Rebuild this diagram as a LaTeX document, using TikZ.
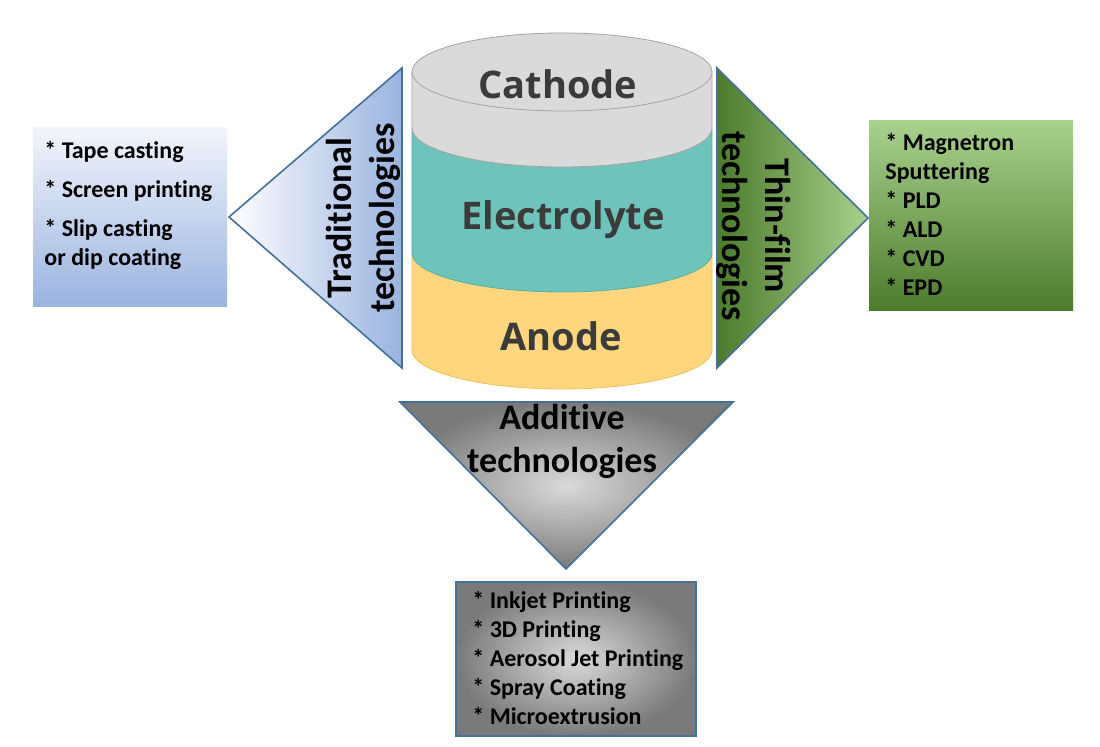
\documentclass[tikz,border=0pt]{standalone}
\usepackage{fontspec}
\setmainfont{Carlito}[Ligatures=NoCommon]
\newfontfamily\layerfont{Open Sans}
\usepackage{tikz}

\definecolor{edgeblue}{HTML}{41719C}
\definecolor{tradblue}{HTML}{9AB3DF}
\definecolor{tradlight}{HTML}{F2F5FB}
\definecolor{filmdark}{HTML}{4C7B2C}
\definecolor{filmlight}{HTML}{A9D18E}
\definecolor{greylight}{HTML}{DADADA}
\definecolor{greydark}{HTML}{7A7A7A}
\definecolor{cathode}{HTML}{DADADA}
\definecolor{cathodeedge}{HTML}{A3A3A3}
\definecolor{electrolyte}{HTML}{6EC4BA}
\definecolor{electrolyteedge}{HTML}{5AB0A6}
\definecolor{anode}{HTML}{FDD67E}
\definecolor{anodeedge}{HTML}{EDC25C}
\definecolor{layertext}{HTML}{3B3B3B}

\begin{document}
\begin{tikzpicture}[x=0.5pt,y=-0.5pt,
    listtext/.style={font=\bfseries\fontsize{12pt}{14.5pt}\selectfont, align=left, inner sep=0pt, anchor=north west},
    techlabel/.style={font=\bfseries\fontsize{18pt}{21.5pt}\selectfont, align=center, inner sep=0pt},
    layerlabel/.style={font=\layerfont\bfseries\fontsize{19pt}{23pt}\selectfont, text=layertext, inner sep=0pt},
    tri/.style={draw=edgeblue, line width=0.8pt, line join=miter}]

    \useasboundingbox (0,0) rectangle (1100,747);
    \fill[white] (0,0) rectangle (1100,747);

    % traditional technologies (left)
    \shade[top color=tradlight, bottom color=tradblue] (33,128) rectangle (227,307);
    \shadedraw[tri, left color=white, right color=tradblue] (229,217) -- (402,68) -- (402,368) -- cycle;
    \node[listtext] (tradlist) at (44,141) {* Tape casting\\[5pt]* Screen printing\\[5pt]* Slip casting\\or dip coating};
    \node[techlabel, rotate=90] (trad) at (363,218) {Traditional\\technologies};

    % cell: anode, electrolyte, cathode
    \filldraw[fill=anode, draw=anodeedge] (412,253) -- (412,350)
        arc[start angle=180, end angle=360, x radius=75pt, y radius=19.5pt] -- (712,253) -- cycle;
    \filldraw[fill=electrolyte, draw=electrolyteedge] (412,128) -- (412,253)
        arc[start angle=180, end angle=360, x radius=75pt, y radius=19.5pt] -- (712,128) -- cycle;
    \filldraw[fill=cathode, draw=cathodeedge] (412,72) -- (412,128)
        arc[start angle=180, end angle=360, x radius=75pt, y radius=19.5pt] -- (712,72) -- cycle;
    \filldraw[fill=cathode, draw=cathodeedge] (562,72) ellipse [x radius=75pt, y radius=19.5pt];
    \node[layerlabel] (cathodelabel) at (558,84) {Cathode};
    \node[layerlabel] (electrolytelabel) at (563,220) {Electrolyte};
    \node[layerlabel] (anodelabel) at (561,336) {Anode};

    % thin-film technologies (right)
    \shadedraw[tri, left color=filmdark, right color=filmlight] (717,68) -- (868,218) -- (717,368) -- cycle;
    \shade[top color=filmlight, bottom color=filmdark] (869,121) rectangle (1073,311);
    \node[techlabel, rotate=-90] (film) at (754,226) {Thin-film\\technologies};
    \node[listtext] (filmlist) at (885,133) {* Magnetron\\Sputtering\\* PLD\\* ALD\\* CVD\\* EPD};

    % additive technologies (bottom)
    \shadedraw[tri, inner color=greylight, outer color=greydark] (400,402) -- (733,402) -- (566,569) -- cycle;
    \node[techlabel] (additive) at (562,441) {Additive\\technologies};
    \shadedraw[draw=edgeblue, line width=1pt, inner color=greylight, outer color=greydark] (456,582) rectangle (696,736);
    \node[listtext] (addlist) at (472,591) {* Inkjet Printing\\* 3D Printing\\* Aerosol Jet Printing\\* Spray Coating\\* Microextrusion};

\end{tikzpicture}
\end{document}
